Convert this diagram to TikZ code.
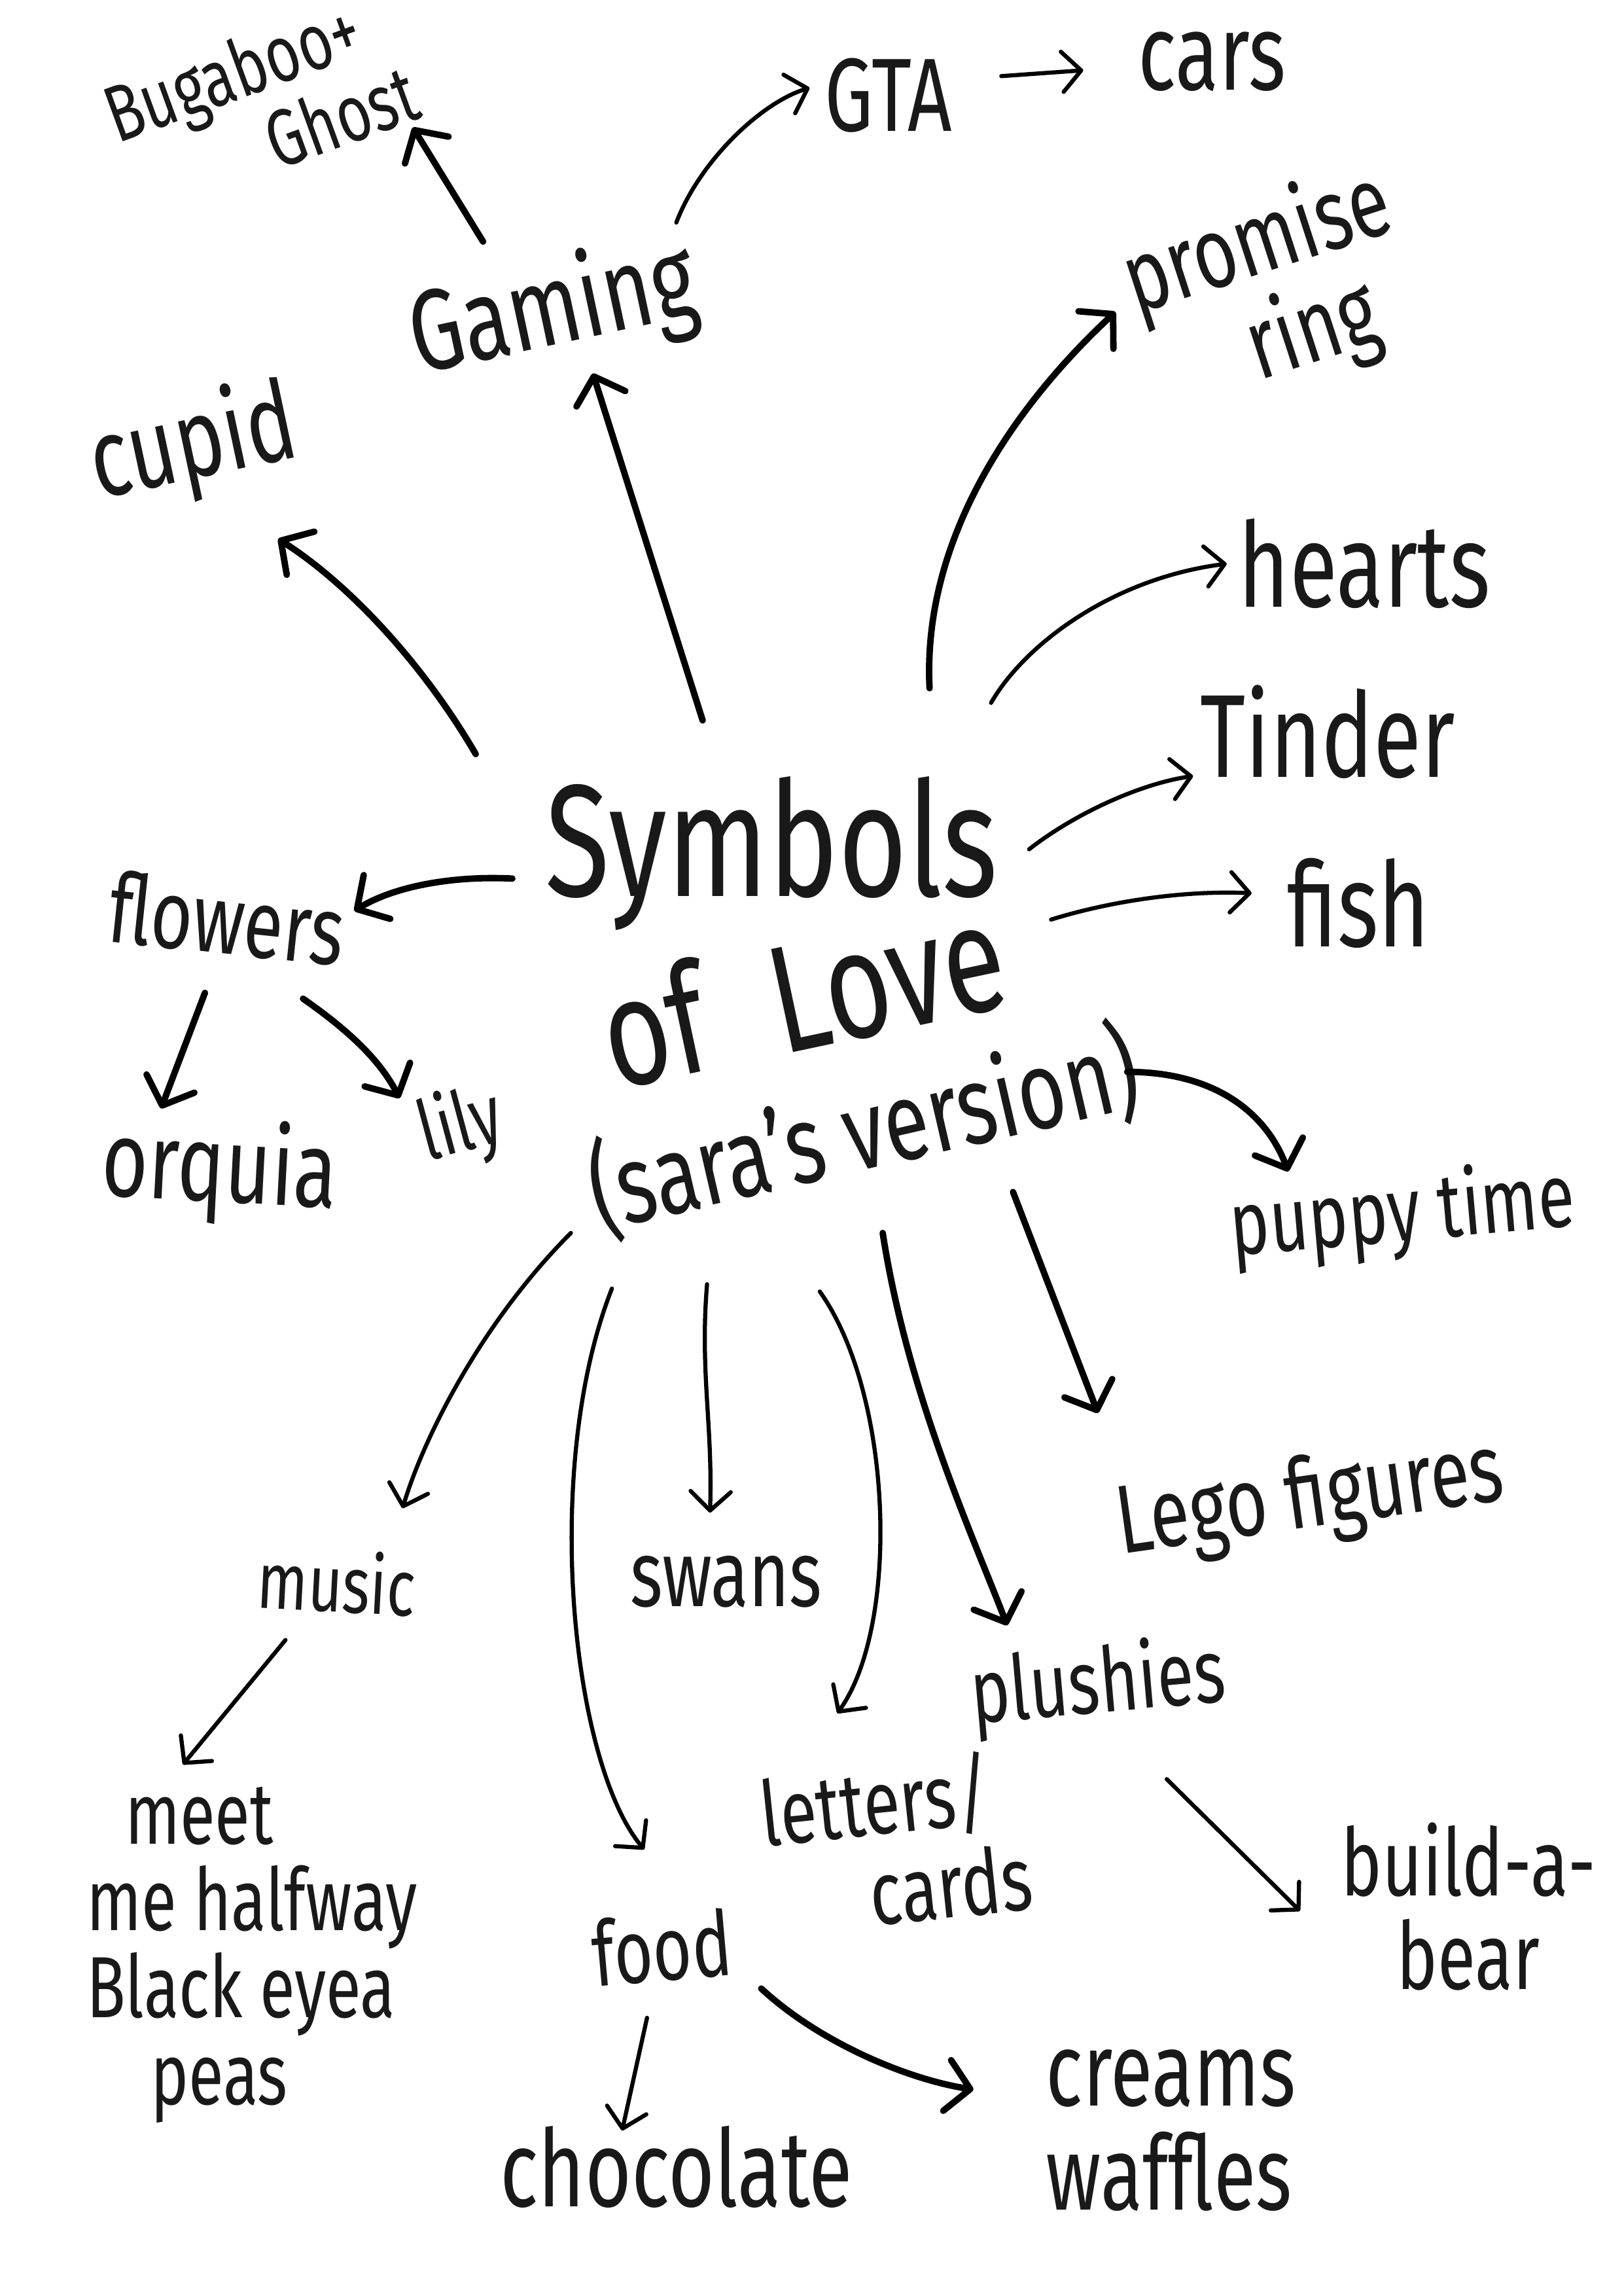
\documentclass[tikz,border=0pt]{standalone}
\usepackage{fontspec}
\setmainfont{Fira Sans}
\usetikzlibrary{arrows.meta}
\newcommand\hw[1]{\fontsize{#1}{1.0\dimexpr #1pt\relax}\selectfont}
\begin{document}
\begin{tikzpicture}[x=0.02cm,y=-0.02cm,
  lbl/.style={inner sep=0pt, transform shape, yscale=1.35, align=center, text=black!90},
  big/.style={line width=2.5pt, line cap=round, -{Straight Barb[length=3.2mm,width=7mm,line cap=round,line join=round]}},
  thin/.style={line width=1.6pt, line cap=round, -{Straight Barb[length=2.6mm,width=5.5mm,line cap=round,line join=round]}}]
\fill[white] (0,0) rectangle (1109,1568);
\useasboundingbox (0,0) rectangle (1109,1568);

% central text
\node[rotate=0,lbl,font=\hw{46}] (sym) at (527,583) {Symbols};
\node[rotate=12,lbl,font=\hw{44}] (love) at (548,678) {of\hspace{0.6em}Love};
\node[rotate=13,lbl,font=\hw{32}] (sara) at (590,772) {(sara's version)};

% labels
\node[rotate=20,lbl,font=\hw{23},align=left] (bug) at (178,70) {Bugaboo+\\\hspace{2.4em}Ghost};
\node[lbl,font=\hw{30}] (gta) at (607,65) {GTA};
\node[lbl,font=\hw{31}] (cars) at (828,42) {cars};
\node[rotate=12,lbl,font=\hw{33}] (gaming) at (378,213) {Gaming};
\node[rotate=12,lbl,font=\hw{32}] (cupid) at (132,305) {cupid};
\node[rotate=18,lbl,font=\hw{29},align=left] (promise) at (870,200) {promise\\\hspace{1.3em}ring};
\node[lbl,font=\hw{34}] (hearts) at (932,385) {hearts};
\node[lbl,font=\hw{34}] (tinder) at (907,500) {Tinder};
\node[lbl,font=\hw{34}] (fish) at (928,617) {fish};
\node[rotate=-6,lbl,font=\hw{28}] (flowers) at (155,627) {flowers};
\node[rotate=-3,lbl,font=\hw{31}] (orquia) at (150,800) {orquia};
\node[rotate=15,lbl,font=\hw{24}] (lily) at (315,770) {lily};
\node[rotate=5,lbl,font=\hw{26}] (puppy) at (958,830) {puppy time};
\node[rotate=8,lbl,font=\hw{28}] (lego) at (895,1025) {Lego figures};
\node[rotate=-3,lbl,font=\hw{23}] (music) at (230,1080) {music};
\node[lbl,font=\hw{27}] (swans) at (496,1080) {swans};
\node[rotate=5,lbl,font=\hw{26}] (plushies) at (750,1152) {plushies};
\node[rotate=6,lbl,align=left,font=\hw{26}] (letters) at (612,1258) {letters/\\\hspace{1.5em}cards};
\node[lbl,font=\hw{27}] (build) at (1003,1302) {build-a-\\bear};
\node[lbl,align=left,font=\hw{25}] (meet) at (172,1335) {\hspace{0.6em}meet\\me halfway\\Black eyea\\\hspace{1em}peas};
\node[rotate=5,lbl,font=\hw{26}] (food) at (452,1330) {food};
\node[lbl,font=\hw{31}] (choc) at (462,1480) {chocolate};
\node[lbl,align=left,font=\hw{30}] (creams) at (800,1455) {creams\\waffles};

% connectors
\draw[big] ([shift={(-48,-48)}]gaming.center) -- ([shift={(104,17)}]bug.center);
\draw[thin] ([shift={(84,-61)}]gaming.center) .. controls +(16,-42) and +(-33,10) .. ([shift={(-54,-5)}]gta.center);
\draw[thin] ([shift={(77,-13)}]gta.center) -- ([shift={(-88,6)}]cars.center);
\draw[big] ([shift={(-47,-91)}]sym.center) -- ([shift={(27,42)}]gaming.center);
\draw[big] ([shift={(-202,-68)}]sym.center) .. controls +(-35,-60) and +(50,32) .. ([shift={(58,63)}]cupid.center);
\draw[big] ([shift={(108,-113)}]sym.center) .. controls +(-5,-100) and +(-72,67) .. ([shift={(-108,13)}]promise.center);
\draw[thin] ([shift={(150,-103)}]sym.center) .. controls +(23,-40) and +(-78,10) .. ([shift={(-94,0)}]hearts.center);
\draw[thin] ([shift={(176,-3)}]sym.center) .. controls +(32,-25) and +(-35,5) .. ([shift={(-92,30)}]tinder.center);
\draw[thin] ([shift={(170,-50)}]love.center) .. controls +(42,-13) and +(-45,-2) .. ([shift={(-73,-7)}]fish.center);
\draw[big] ([shift={(-177,17)}]sym.center) .. controls +(-40,-2) and +(28,-17) .. ([shift={(87,-5)}]flowers.center);
\draw[big] ([shift={(-15,51)}]flowers.center) -- ([shift={(-40,-43)}]orquia.center);
\draw[big] ([shift={(52,55)}]flowers.center) .. controls +(33,23) and +(-13,-25) .. ([shift={(-42,-20)}]lily.center);
\draw[big] ([shift={(180,-40)}]sara.center) .. controls +(60,0) and +(-15,-40) .. ([shift={(-78,-30)}]puppy.center);
\draw[big] ([shift={(102,42)}]sara.center) -- ([shift={(-145,-60)}]lego.center);
\draw[thin] ([shift={(-200,70)}]sara.center) .. controls +(-60,60) and +(15,-50) .. ([shift={(45,-50)}]music.center);
\draw[thin] ([shift={(-172,108)}]sara.center) .. controls +(-48,122) and +(-50,-60) .. ([shift={(-12,-67)}]food.center);
\draw[thin] ([shift={(-107,105)}]sara.center) .. controls +(-5,60) and +(2,-60) .. ([shift={(-11,-47)}]swans.center);
\draw[thin] ([shift={(-30,110)}]sara.center) .. controls +(50,70) and +(43,-60) .. ([shift={(-40,-88)}]letters.center);
\draw[big] ([shift={(13,70)}]sara.center) .. controls +(17,110) and +(-23,-60) .. ([shift={(-62,-42)}]plushies.center);
\draw[thin] ([shift={(47,63)}]plushies.center) -- ([shift={(-115,3)}]build.center);
\draw[thin] ([shift={(-35,40)}]music.center) -- ([shift={(-47,-130)}]meet.center);
\draw[thin] ([shift={(-10,48)}]food.center) -- ([shift={(-37,-25)}]choc.center);
\draw[big] ([shift={(68,28)}]food.center) .. controls +(40,37) and +(-45,-7) .. ([shift={(-135,-28)}]creams.center);
\end{tikzpicture}
\end{document}
